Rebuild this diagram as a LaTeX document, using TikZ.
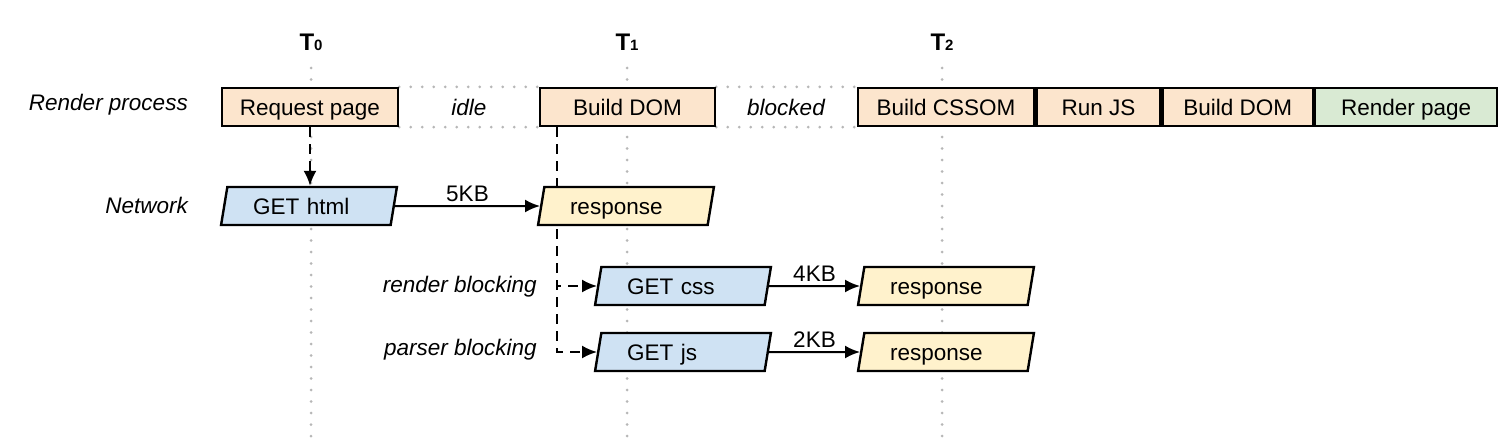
\documentclass[tikz,border=0pt]{standalone}
\usepackage{fontspec}
\setmainfont{Liberation Sans}
\usetikzlibrary{shapes.geometric,arrows.meta,positioning,backgrounds}
\definecolor{procorange}{HTML}{FCE5CD}
\definecolor{netblue}{HTML}{CFE2F3}
\definecolor{respyellow}{HTML}{FFF2CC}
\definecolor{rendergreen}{HTML}{D9EAD3}
\definecolor{gridgray}{HTML}{B7B7B7}
\newcommand{\diagfont}{\fontsize{22.5}{27}\selectfont}

\tikzset{
  stagebox/.style={draw, line width=2.4pt, fill=procorange, minimum height=38pt, inner sep=0pt,
    text height=16pt, text depth=0pt},
  netbox/.style={draw, line width=2.4pt, trapezium, trapezium left angle=75, trapezium right angle=105,
    trapezium stretches=true, minimum width=176pt, minimum height=38pt, inner sep=0pt,
    text height=16pt, text depth=0pt, text width=112pt, align=left},
  rowlabel/.style={anchor=east, inner sep=0pt, font=\diagfont\itshape},
  gapline/.style={gridgray, line width=3pt, dash pattern=on 0pt off 11.5pt, line cap=round},
  flow/.style={line width=2pt, -{Latex[length=15pt,width=13pt]}},
  waitflow/.style={flow, dash pattern=on 10pt off 7pt}
}

\begin{document}
\begin{tikzpicture}[x=1pt, y=-1pt, font=\diagfont]
  \useasboundingbox (0,0) rectangle (1508,444);
  % time markers
  \foreach \gx/\k in {311/0, 627/1, 942/2}
    \node[font=\bfseries] (t\k) at (\gx,42) {\fontsize{24}{28}\selectfont T\fontsize{15}{18}\selectfont\k};
  % render process row
  \node[stagebox, minimum width=176pt] (req) at (310,107) {Request page};
  \node[stagebox, minimum width=175pt] (dom1) at (627.5,107) {Build DOM};
  \node[stagebox, minimum width=176pt] (cssom) at (946,107) {Build CSSOM};
  \node[stagebox, minimum width=124pt, right=0pt of cssom] (runjs) {Run JS};
  \node[stagebox, minimum width=150pt, right=0pt of runjs] (dom2) {Build DOM};
  \node[stagebox, minimum width=182pt, right=0pt of dom2, fill=rendergreen] (paint) {Render page};
  \node[rowlabel] (proclbl) at (188,105) {Render process};
  \node[font=\diagfont\itshape] (idle) at (469,107) {idle};
  \node[font=\diagfont\itshape] (blocked) at (786,107) {blocked};
  % network row
  \node[netbox, fill=netblue] (html) at (309,206) {GET html};
  \node[netbox, fill=respyellow] (htmlresp) at (626,206) {response};
  \node[rowlabel] (netlbl) at (188,205) {Network};
  \node[netbox, fill=netblue] (css) at (683,286) {GET css};
  \node[netbox, fill=respyellow] (cssresp) at (946,286) {response};
  \node[netbox, fill=netblue] (js) at (683,352) {GET js};
  \node[netbox, fill=respyellow] (jsresp) at (946,352) {response};
  \node[rowlabel] (csslbl) at (537,287) {render blocking};
  \node[rowlabel] (jslbl) at (537,350) {parser blocking};
  % transfers
  \draw[flow] (html) -- node[above] (kb5) {5KB} (htmlresp);
  \draw[flow] (css) -- node[above] (kb4) {4KB} (cssresp);
  \draw[flow] (js) -- node[above] (kb2) {2KB} (jsresp);
  \draw[waitflow] (req) -- (req |- html.north);
  \begin{scope}[on background layer]
    % gridlines
    \foreach \gx in {311,627,942}
      \draw[gapline] (\gx,68) -- (\gx,440);
    \draw[gapline] (req.north east) -- (dom1.north west);
    \draw[gapline] (req.south east) -- (dom1.south west);
    \draw[gapline] (dom1.north east) -- (cssom.north west);
    \draw[gapline] (dom1.south east) -- (cssom.south west);
    % parser waits on the network
    \coordinate (fork) at ([xshift=18pt]dom1.south west);
    \draw[waitflow] (fork) |- (css);
    \draw[waitflow] (fork) |- (js);
  \end{scope}
\end{tikzpicture}
\end{document}
